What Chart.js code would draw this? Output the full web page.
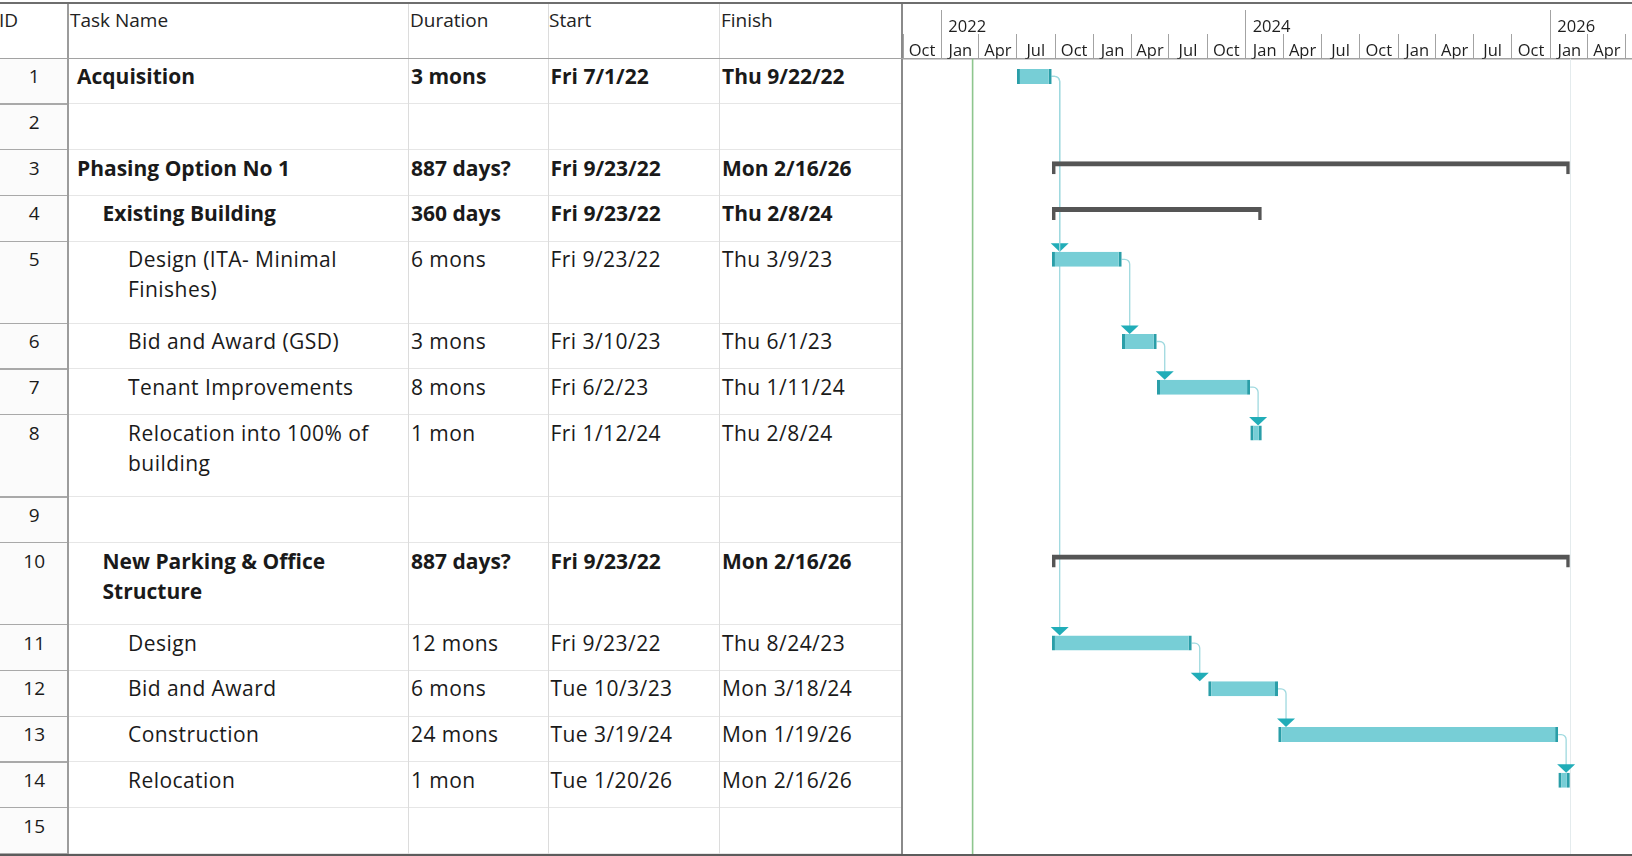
<!DOCTYPE html>
<html>
<head>
<meta charset="utf-8">
<title>Project schedule</title>
<script src="https://cdn.jsdelivr.net/npm/chart.js@4.4.1/dist/chart.umd.min.js"></script>
<style>
  html, body { margin: 0; padding: 0; background: #fff; }
  body { width: 1632px; height: 856px; position: relative; overflow: hidden;
         font-family: "Open Sans", sans-serif; color: #1a1a1a; }
  #grid { position: absolute; left: 0; top: 0; width: 903px; height: 856px; }
  .ln { position: absolute; }
  .txt { position: absolute; box-sizing: border-box; font-size: 21px; line-height: 30px;
         white-space: normal; letter-spacing: 0.45px; }
  .hdr { position: absolute; font-size: 19px; line-height: 30px; white-space: nowrap; color: #222; }
  .id { text-align: center; font-size: 19px; letter-spacing: 0; }
  .b { font-weight: 700; letter-spacing: 0; }
  #gantt { position: absolute; left: 903px; top: 0; }
  .frame { position: absolute; z-index: 5; }
</style>
</head>
<body>
<div id="grid"></div>
<canvas id="gantt" width="729" height="856"></canvas>
<script>
// ---- schedule table ----
const taskIds = [1, 2, 3, 4, 5, 6, 7, 8, 9, 10, 11, 12, 13, 14, 15];
const taskNames = [
  'Acquisition', '', 'Phasing Option No 1', 'Existing Building',
  'Design (ITA- Minimal Finishes)', 'Bid and Award (GSD)', 'Tenant Improvements',
  'Relocation into 100% of building', '', 'New Parking & Office Structure',
  'Design', 'Bid and Award', 'Construction', 'Relocation', ''
];
const outlineLevels = [0, 0, 0, 1, 2, 2, 2, 2, 0, 1, 2, 2, 2, 2, 0];
const durations = ['3 mons', '', '887 days?', '360 days', '6 mons', '3 mons', '8 mons', '1 mon',
  '', '887 days?', '12 mons', '6 mons', '24 mons', '1 mon', ''];
const startDates = ['Fri 7/1/22', '', 'Fri 9/23/22', 'Fri 9/23/22', 'Fri 9/23/22', 'Fri 3/10/23',
  'Fri 6/2/23', 'Fri 1/12/24', '', 'Fri 9/23/22', 'Fri 9/23/22', 'Tue 10/3/23', 'Tue 3/19/24',
  'Tue 1/20/26', ''];
const finishDates = ['Thu 9/22/22', '', 'Mon 2/16/26', 'Thu 2/8/24', 'Thu 3/9/23', 'Thu 6/1/23',
  'Thu 1/11/24', 'Thu 2/8/24', '', 'Mon 2/16/26', 'Thu 8/24/23', 'Mon 3/18/24', 'Mon 1/19/26',
  'Mon 2/16/26', ''];
const summaryTasks = [3, 4, 10];
const boldTasks = [1, 3, 4, 10];
const twoLineTasks = [5, 8, 10];
const predecessorLinks = [[1, 5], [1, 11], [5, 6], [6, 7], [7, 8], [11, 12], [12, 13], [13, 14]];
const columnTitles = ['ID', 'Task Name', 'Duration', 'Start', 'Finish'];
const quarterNames = ['Jan', 'Apr', 'Jul', 'Oct'];
const yearLabels = ['2022', '2024', '2026'];
const statusDate = '3/17/22';

// ---- layout ----
const HEADER_H = 58.7;
const ROW_H = 45.7, ROW_H2 = 82.2;
const BAR_MID = 17.7;          // bar centre below the row top
const TASK_BAR = 15, SUMMARY_BAR = 13;
const COL_X = [0, 68.3, 408, 547.5, 719, 903];
const DAY = 86400000;
const AXIS_START = Date.UTC(2021, 9, 1);
const AXIS_END = AXIS_START + 1748.9 * DAY;

function parseProjectDate(s, hour) {
  const m = s.match(/(\d+)\/(\d+)\/(\d+)/);
  return Date.UTC(2000 + Number(m[3]), Number(m[1]) - 1, Number(m[2]), hour || 0);
}

const rowHeights = taskIds.map(id => twoLineTasks.includes(id) ? ROW_H2 : ROW_H);
const rowTops = [];
let bodyH = 0;
rowHeights.forEach(h => { rowTops.push(bodyH); bodyH += h; });

// ---- table (HTML) ----
const grid = document.getElementById('grid');
function el(cls, css, text) {
  const d = document.createElement('div');
  d.className = cls;
  Object.assign(d.style, css);
  if (text !== undefined) d.textContent = text;
  grid.appendChild(d);
  return d;
}
// ID column tint
el('ln', { left: '0px', top: HEADER_H + 'px', width: COL_X[1] + 'px', height: bodyH + 'px', background: '#fbfbfb' });

// row separators
taskIds.forEach((id, i) => {
  const y = HEADER_H + rowTops[i] + rowHeights[i] - 1;
  el('ln', { left: '0px', top: y + 'px', width: COL_X[1] + 'px', height: '1.3px', background: '#a9a9a9' });
  el('ln', { left: COL_X[1] + 'px', top: y + 'px', width: (COL_X[5] - COL_X[1]) + 'px', height: '1px', background: '#e6e6e6' });
});
// column separators
[2, 3, 4].forEach(c => el('ln', { left: COL_X[c] + 'px', top: '3px', width: '1px', height: '852px', background: '#dcdcdc' }));
el('ln', { left: (COL_X[1] - 1) + 'px', top: '3px', width: '1.5px', height: '852px', background: '#9c9c9c' });
el('ln', { left: (COL_X[5] - 2) + 'px', top: '3px', width: '2px', height: '852px', background: '#8a8a8a' });
// header underline
el('ln', { left: '0px', top: (HEADER_H - 1) + 'px', width: COL_X[5] + 'px', height: '1.5px', background: '#a2a2a2' });

// header titles
const hdrX = [-1, 70, 410, 549, 721];
columnTitles.forEach((t, c) => el('hdr', { left: hdrX[c] + 'px', top: '5px' }, t));

// body text
taskIds.forEach((id, i) => {
  const top = HEADER_H + rowTops[i] + 2.5;
  const bold = boldTasks.includes(id) ? ' b' : '';
  el('txt id', { left: '0px', top: top + 'px', width: COL_X[1] + 'px' }, String(id));
  if (taskNames[i]) {
    const x = COL_X[1] + 8.7 + outlineLevels[i] * 25.5;
    el('txt' + bold, { left: x + 'px', top: top + 'px', width: (COL_X[2] - x - 4) + 'px' }, taskNames[i]);
  }
  [[durations, 2], [startDates, 3], [finishDates, 4]].forEach(([arr, c]) => {
    if (arr[i]) el('txt' + bold, { left: (COL_X[c] + 3) + 'px', top: top + 'px', width: (COL_X[c + 1] - COL_X[c] - 4) + 'px' }, arr[i]);
  });
});

// outer frame lines across the full width
function frame(css) {
  const d = document.createElement('div');
  d.className = 'frame';
  Object.assign(d.style, css);
  document.body.appendChild(d);
}
frame({ left: '0px', top: '2px', width: '1632px', height: '1.5px', background: '#6e6e6e' });
frame({ left: '0px', top: '854px', width: '1632px', height: '2px', background: '#5c5c5c' });

// ---- gantt bars ----
const taskBars = [], summaryBars = [];
const barById = {};
taskIds.forEach((id, i) => {
  if (!startDates[i]) return;
  const pt = {
    x: [parseProjectDate(startDates[i], 8), parseProjectDate(finishDates[i], 17)],
    y: rowTops[i] + BAR_MID
  };
  barById[id] = pt;
  (summaryTasks.includes(id) ? summaryBars : taskBars).push(pt);
});

const quarterTicks = [];
for (let yr = 2021, mo = 9; ; ) {
  const v = Date.UTC(yr, mo, 1);
  if (v > AXIS_END) break;
  quarterTicks.push(v);
  mo += 3;
  if (mo > 11) { mo -= 12; yr += 1; }
}
const yearTicks = yearLabels.map(y => Date.UTC(Number(y), 0, 1));

// connectors, status line and finish line
const scheduleMarks = {
  id: 'scheduleMarks',
  beforeDatasetsDraw(chart) {
    const { ctx, chartArea, scales: { x, y } } = chart;
    ctx.save();
    // project finish
    const fx = Math.round(x.getPixelForValue(parseProjectDate(finishDates[2], 17))) + 0.5;
    ctx.strokeStyle = '#e4ebed';
    ctx.lineWidth = 1;
    ctx.beginPath(); ctx.moveTo(fx, chartArea.top); ctx.lineTo(fx, chartArea.bottom); ctx.stroke();
    // status date
    const sx = x.getPixelForValue(parseProjectDate(statusDate, 0));
    ctx.strokeStyle = '#8ec68e';
    ctx.lineWidth = 1.6;
    ctx.beginPath(); ctx.moveTo(sx, chartArea.top); ctx.lineTo(sx, chartArea.bottom); ctx.stroke();
    // finish-to-start links
    const step = 8, r = 5, aw = 18, ah = 8.5;
    predecessorLinks.forEach(([from, to]) => {
      const a = barById[from], b = barById[to];
      const x0 = x.getPixelForValue(a.x[1]);
      const y0 = y.getPixelForValue(a.y);
      const xl = x0 + step;
      const yTop = y.getPixelForValue(b.y) - TASK_BAR / 2;
      ctx.strokeStyle = '#9fd9df';
      ctx.lineWidth = 1.3;
      ctx.beginPath();
      ctx.moveTo(x0, y0);
      ctx.lineTo(xl - r, y0);
      ctx.arcTo(xl, y0, xl, y0 + r, r);
      ctx.lineTo(xl, yTop - ah + 1);
      ctx.stroke();
      ctx.fillStyle = '#21adb8';
      ctx.beginPath();
      ctx.moveTo(xl - aw / 2, yTop - ah);
      ctx.lineTo(xl + aw / 2, yTop - ah);
      ctx.lineTo(xl, yTop);
      ctx.closePath();
      ctx.fill();
    });
    ctx.restore();
  }
};

const axisFont = { family: '"Open Sans", sans-serif', size: 16.5 };
function noEdgePadding(scale) {
  scale.paddingLeft = 0; scale.paddingRight = 0;
}

new Chart(document.getElementById('gantt'), {
  type: 'bar',
  data: {
    datasets: [
      {
        label: 'Tasks',
        data: taskBars,
        backgroundColor: '#77ced6',
        borderColor: '#2a9ea8',
        borderWidth: { left: 3, right: 3, top: 0, bottom: 0 },
        borderSkipped: false,
        grouped: false,
        maxBarThickness: TASK_BAR,
        inflateAmount: 0
      },
      {
        label: 'Summary',
        data: summaryBars,
        backgroundColor: 'rgba(0,0,0,0)',
        borderColor: '#555555',
        borderWidth: { left: 3.5, right: 3.5, top: 5, bottom: 0 },
        borderSkipped: false,
        grouped: false,
        maxBarThickness: SUMMARY_BAR,
        inflateAmount: 0
      }
    ]
  },
  options: {
    indexAxis: 'y',
    responsive: false,
    animation: false,
    events: [],
    layout: { padding: { top: 10, bottom: 2, left: 0, right: 0 } },
    plugins: { legend: { display: false }, tooltip: { enabled: false } },
    scales: {
      x: {
        type: 'linear', position: 'top', min: AXIS_START, max: AXIS_END, weight: 0,
        afterBuildTicks: s => { s.ticks = quarterTicks.map(v => ({ value: v })); },
        afterFit: s => { s.height = HEADER_H - 34; noEdgePadding(s); },
        grid: { drawOnChartArea: false, drawTicks: true, tickLength: HEADER_H - 34, color: '#a3a3a3', lineWidth: 1 },
        border: { display: true, color: '#a2a2a2', width: 1.5 },
        ticks: {
          autoSkip: false, maxRotation: 0, minRotation: 0,
          labelOffset: 19, padding: -27.2, color: '#1e1e1e', font: axisFont,
          callback: v => (v + 38 * DAY > AXIS_END) ? '' : quarterNames[new Date(v).getUTCMonth() / 3]
        }
      },
      x2: {
        type: 'linear', position: 'top', min: AXIS_START, max: AXIS_END, weight: 1,
        afterBuildTicks: s => { s.ticks = yearTicks.map(v => ({ value: v })); },
        afterFit: s => { s.height = 24; noEdgePadding(s); },
        grid: { drawOnChartArea: false, drawTicks: true, tickLength: 24, color: '#a3a3a3', lineWidth: 1 },
        border: { display: false },
        ticks: {
          autoSkip: false, maxRotation: 0, minRotation: 0, align: 'start',
          labelOffset: 7, padding: -27.2, color: '#1e1e1e', font: axisFont,
          callback: (v, i) => yearLabels[i]
        }
      },
      y: { type: 'linear', reverse: true, min: 0, max: bodyH, display: false, offset: false, grid: { offset: false } }
    }
  },
  plugins: [scheduleMarks]
});
</script>
</body>
</html>
